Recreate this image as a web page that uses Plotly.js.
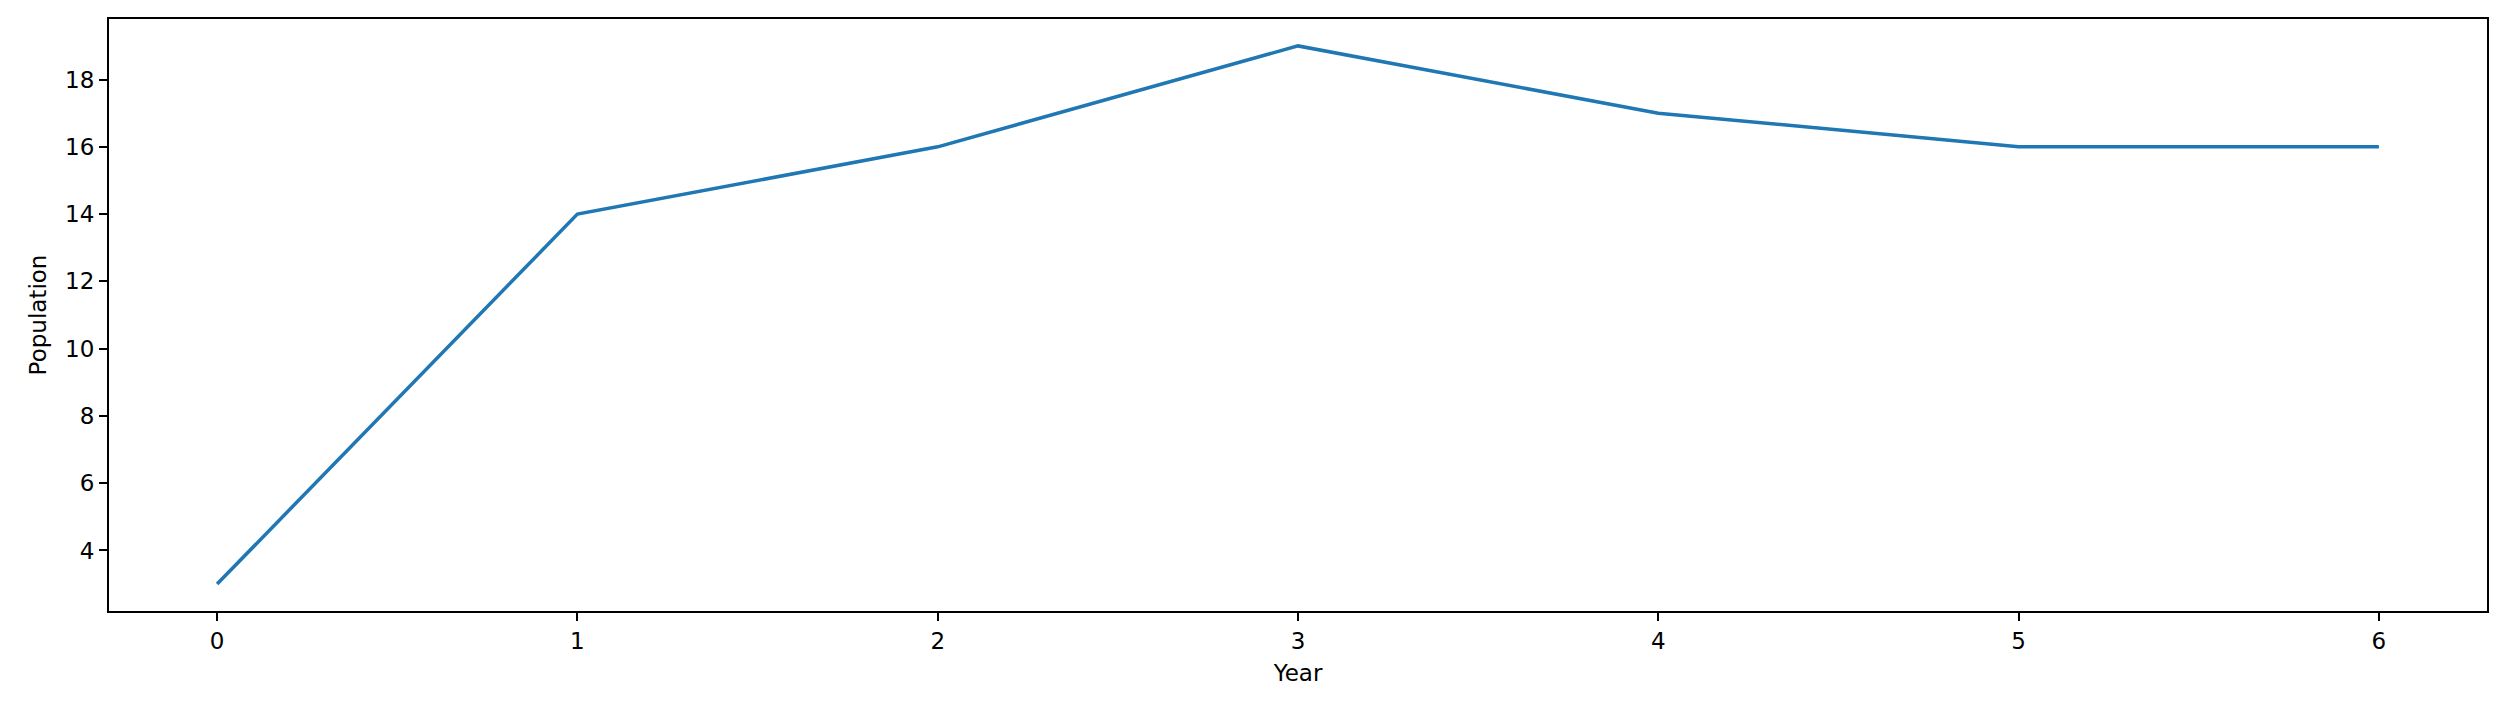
<!DOCTYPE html>
<html>
<head>
<script src="https://cdn.plot.ly/plotly-3.0.1.min.js"></script>
<style>html,body{margin:0;padding:0;background:#fff}</style>
</head>
<body>
<div id="chart" style="width:2508px;height:711px"></div>
<script>
const years = [0, 1, 2, 3, 4, 5, 6]
const population = [3, 14, 16, 19, 17, 16, 16]

const axisStyle = {
    showline: true, mirror: true, linecolor: '#000', linewidth: 2,
    ticks: 'outside', ticklen: 8, tickwidth: 2, tickcolor: '#000',
    showgrid: false, zeroline: false,
    tickfont: { family: 'DejaVu Sans', size: 23, color: '#000' }
}

const trace = {
    x: years,
    y: population,
    type: 'scatter',
    mode: 'lines',
    line: { color: '#1f77b4', width: 3.5 }
}

const layout = {
    width: 2508, height: 711,
    margin: { l: 109, r: 21, t: 19, b: 100 },
    paper_bgcolor: '#fff', plot_bgcolor: '#fff',
    showlegend: false,
    xaxis: Object.assign({}, axisStyle, {
        range: [-0.3, 6.3], dtick: 1,
        title: { text: 'Year', font: { family: 'DejaVu Sans', size: 23, color: '#000' }, standoff: 12 }
    }),
    yaxis: Object.assign({}, axisStyle, {
        range: [2.2, 19.8], tickvals: [4, 6, 8, 10, 12, 14, 16, 18],
        title: { text: 'Population', font: { family: 'DejaVu Sans', size: 23, color: '#000' }, standoff: 12 }
    })
}

Plotly.newPlot('chart', [trace], layout, { staticPlot: true })
</script>
</body>
</html>
